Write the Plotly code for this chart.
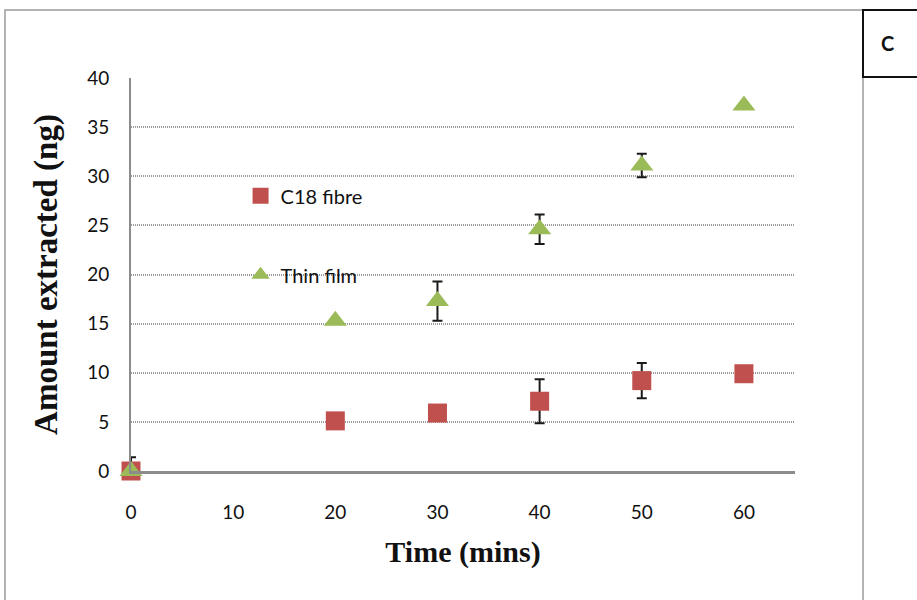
import plotly.graph_objects as go

time_mins = [0, 20, 30, 40, 50, 60]
c18_fibre = [0.0, 5.1, 5.9, 7.1, 9.2, 9.9]
c18_err = [1.4, 0.0, 0.0, 2.25, 1.8, 0.0]
thin_film = [0.0, 15.3, 17.3, 24.6, 31.1, 37.2]
thin_err = [0.0, 0.0, 2.0, 1.5, 1.2, 0.0]

x_ticks = [0, 10, 20, 30, 40, 50, 60]
y_ticks = [0, 5, 10, 15, 20, 25, 30, 35, 40]

RED = "#C0504D"
GREEN = "#9BBB59"
SERIF = "Liberation Serif, Times New Roman, serif"

fig = go.Figure()
fig.add_trace(go.Scatter(
    x=time_mins, y=c18_fibre, mode="markers", name="C18 fibre",
    legendgroup="a",
    marker=dict(symbol="square", size=19, color=RED),
    error_y=dict(type="data", array=c18_err, visible=True, color="#1a1a1a",
                 thickness=2, width=5),
    cliponaxis=False,
))
fig.add_trace(go.Scatter(
    x=time_mins, y=thin_film, mode="markers", name="Thin film",
    legendgroup="b",
    marker=dict(symbol="triangle-up", size=20, color=GREEN),
    error_y=dict(type="data", array=thin_err, visible=True, color="#1a1a1a",
                 thickness=2, width=5),
    cliponaxis=False,
))

fig.update_layout(
    width=917, height=600,
    margin=dict(l=131, r=122, t=78, b=129),
    plot_bgcolor="white", paper_bgcolor="white",
    font=dict(family="Lato, Open Sans, sans-serif", size=19, color="#111111"),
    showlegend=True,
    legend=dict(x=0.165, y=0.75, xanchor="left", yanchor="top",
                bgcolor="rgba(0,0,0,0)", tracegroupgap=50, itemwidth=30,
                traceorder="grouped", font=dict(size=20)),
    xaxis=dict(range=[0, 65], tickvals=x_ticks, showgrid=False,
               showline=True, linecolor="#8c8c8c", linewidth=3,
               zeroline=False, ticks="", ticklabelstandoff=22,
               title=dict(text="<b>Time (mins)</b>", standoff=20,
                          font=dict(family=SERIF, size=30, color="#111111"))),
    yaxis=dict(range=[0, 40], tickvals=y_ticks, showgrid=True,
               gridcolor="#9a9a9a", griddash="1px,1px", gridwidth=1.5,
               showline=True, linecolor="#8c8c8c", linewidth=2,
               zeroline=False, ticks="", ticklabelstandoff=16,
               title=dict(text="<b>Amount extracted (ng)</b>", standoff=20,
                          font=dict(family=SERIF, size=33, color="#111111"))),
    shapes=[
        dict(type="rect", xref="paper", yref="paper",
             x0=-126/664, x1=732/664, y0=-160/393, y1=(471-10)/393,
             line=dict(color="#9a9a9a", width=1.5), fillcolor="rgba(0,0,0,0)"),
        dict(type="rect", xref="paper", yref="paper",
             x0=732/664, x1=800/664, y0=(471-77)/393, y1=(471-10)/393,
             line=dict(color="#111111", width=2), fillcolor="white"),
    ],
    annotations=[
        dict(text="<b>C</b>", xref="paper", yref="paper", x=(887-131)/664,
             y=(471-43)/393, showarrow=False, xanchor="center", yanchor="middle",
             font=dict(family="Lato, sans-serif", size=20, color="#111111")),
    ],
)

fig.write_html("out.html")
